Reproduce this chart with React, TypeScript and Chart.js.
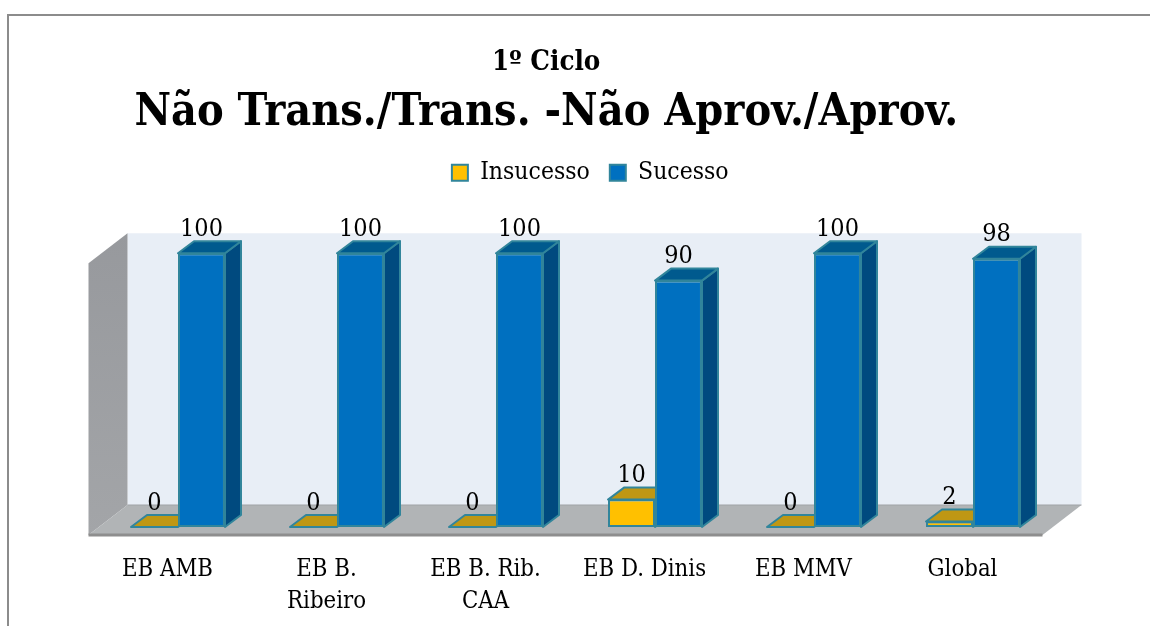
import React, { useEffect, useRef } from "react";
import { Chart, registerables } from "chart.js";

Chart.register(...registerables);

const categories = [
  "EB AMB",
  ["EB B.", "Ribeiro"],
  ["EB B. Rib.", "CAA"],
  "EB D. Dinis",
  "EB MMV",
  "Global",
];
const insucesso = [0, 0, 0, 10, 0, 2];
const sucesso = [100, 100, 100, 90, 100, 98];
const chartTitle = "1º Ciclo";
const chartSubtitle = "Não Trans./Trans. -Não Aprov./Aprov.";
const FONT = "'DejaVu Serif Condensed', 'DejaVu Serif', serif";

const BAR_DX = 16;
const BAR_DY = 12;

const faces: Record<string, { top: string; side: string }> = {
  Insucesso: { top: "#BF9714", side: "#BF9000" },
  Sucesso: { top: "#005A8E", side: "#004A7F" },
};

function poly(ctx: CanvasRenderingContext2D, pts: number[][], fill: string | CanvasGradient, stroke?: string, lw = 2) {
  ctx.beginPath();
  pts.forEach(([x, y], i) => (i ? ctx.lineTo(x, y) : ctx.moveTo(x, y)));
  ctx.closePath();
  ctx.fillStyle = fill;
  ctx.fill();
  if (stroke) {
    ctx.strokeStyle = stroke;
    ctx.lineWidth = lw;
    ctx.lineJoin = "round";
    ctx.stroke();
  }
}

const scene3d = {
  id: "scene3d",
  afterLayout(chart: any) {
    // the legend sits to the right of the titles' centre
    if (chart.legend) {
      chart.legend.left += 44;
      chart.legend.right += 44;
    }
  },
  beforeDraw(chart: any) {
    const { ctx } = chart;
    ctx.save();
    ctx.fillStyle = "#ffffff";
    ctx.fillRect(0, 0, chart.width, chart.height);
    ctx.strokeStyle = "#8C8C8C";
    ctx.lineWidth = 2;
    ctx.beginPath();
    ctx.moveTo(8, 626);
    ctx.lineTo(8, 15);
    ctx.lineTo(1150, 15);
    ctx.stroke();
    ctx.restore();
  },
  beforeDatasetsDraw(chart: any) {
    const { ctx, scales } = chart;
    const x = scales.x;
    const y = scales.y;
    const baseY = y.getPixelForValue(0);
    const topY = y.getPixelForValue(100);
    const fx0 = x.left - 10;
    const fx1 = x.right - 10;
    const fy = baseY + 8;
    const ddx = 39;
    const ddy = 30;
    const wallTop = topY - 20;
    ctx.save();
    poly(ctx, [[fx0 + ddx, wallTop], [fx1 + ddx, wallTop], [fx1 + ddx, fy - ddy], [fx0 + ddx, fy - ddy]], "#E8EEF6");
    const g = ctx.createLinearGradient(0, wallTop, 0, fy);
    g.addColorStop(0, "#97999D");
    g.addColorStop(1, "#A3A5A8");
    poly(ctx, [[fx0, wallTop + ddy], [fx0 + ddx, wallTop], [fx0 + ddx, fy - ddy], [fx0, fy]], g);
    poly(ctx, [[fx0, fy], [fx0 + ddx, fy - ddy], [fx1 + ddx, fy - ddy], [fx1, fy]], "#B1B4B6");
    ctx.strokeStyle = "#A0A3A6";
    ctx.lineWidth = 1;
    ctx.beginPath();
    ctx.moveTo(fx0 + ddx, fy - ddy);
    ctx.lineTo(fx1 + ddx, fy - ddy);
    ctx.stroke();
    ctx.strokeStyle = "#8E8E8E";
    ctx.lineWidth = 3;
    ctx.beginPath();
    ctx.moveTo(fx0, fy);
    ctx.lineTo(fx1, fy);
    ctx.stroke();
    chart.data.datasets.forEach((ds: any, di: number) => {
      const meta = chart.getDatasetMeta(di);
      meta.data.forEach((bar: any) => {
        const half = bar.width / 2;
        const l = bar.x - half;
        const r = bar.x + half;
        const t = bar.y;
        const b = bar.base;
        const stroke = ds.borderColor;
        const f = faces[ds.label];
        if (b - t > 0.5) {
          poly(ctx, [[r, t], [r + BAR_DX, t - BAR_DY], [r + BAR_DX, b - BAR_DY], [r, b]], f.side, stroke);
        }
        poly(ctx, [[l, t], [l + BAR_DX, t - BAR_DY], [r + BAR_DX, t - BAR_DY], [r, t]], f.top, stroke);
      });
    });
    ctx.restore();
  },
  afterDatasetsDraw(chart: any) {
    const { ctx } = chart;
    ctx.save();
    ctx.fillStyle = "#000000";
    ctx.font = `25px ${FONT}`;
    ctx.textAlign = "center";
    ctx.textBaseline = "alphabetic";
    chart.data.datasets.forEach((ds: any, di: number) => {
      chart.getDatasetMeta(di).data.forEach((bar: any, i: number) => {
        ctx.fillText(String(ds.data[i]), bar.x, bar.y - 17.5);
      });
    });
    ctx.restore();
  },
};

export default function App() {
  const ref = useRef<HTMLCanvasElement>(null);
  useEffect(() => {
    const chart = new Chart(ref.current!, {
      type: "bar",
      data: {
        labels: categories as any,
        datasets: [
          { label: "Insucesso", data: insucesso, backgroundColor: "#FFC000", borderColor: "#31859B", borderWidth: 2, borderSkipped: false },
          { label: "Sucesso", data: sucesso, backgroundColor: "#0070C0", borderColor: "#31859B", borderWidth: 2, borderSkipped: false },
        ],
      },
      plugins: [scene3d],
      options: {
        responsive: false,
        animation: false,
        events: [],
        layout: { padding: { left: 40, right: 97.5, top: 40, bottom: 0 } },
        plugins: {
          tooltip: { enabled: false },
          title: {
            display: true,
            text: chartTitle,
            color: "#000",
            font: { family: FONT, size: 27.5, weight: "bold" },
            padding: { top: 6, bottom: 8 },
          },
          subtitle: {
            display: true,
            text: chartSubtitle,
            color: "#000",
            font: { family: FONT, size: 44.5, weight: "bold" },
            padding: { top: 0, bottom: 0 },
          },
          legend: {
            position: "top",
            labels: {
              color: "#000",
              font: { family: FONT, size: 24.5 },
              boxWidth: 16,
              boxHeight: 16,
              padding: 20,
            },
          },
        },
        scales: {
          x: {
            grid: { display: false },
            border: { display: false },
            afterFit(scale: any) {
              scale.height = 99;
            },
            ticks: {
              color: "#000",
              font: { family: FONT, size: 23.7, lineHeight: 1.35 },
              maxRotation: 0,
              autoSkip: false,
              labelOffset: -10.5,
              padding: 19,
            },
          } as any,
          y: {
            display: true,
            min: 0,
            max: 121.3,
            grid: { display: false },
            border: { display: false },
            ticks: { display: false },
            afterFit(scale: any) {
              scale.width = 58.5;
            },
          },
        },
        datasets: { bar: { categoryPercentage: 0.591, barPercentage: 1 } },
      } as any,
    });
    return () => chart.destroy();
  }, []);
  return (
    <canvas
      ref={ref}
      width={1150}
      height={626}
      style={{ position: "fixed", left: 0, top: 0, display: "block" }}
    />
  );
}
